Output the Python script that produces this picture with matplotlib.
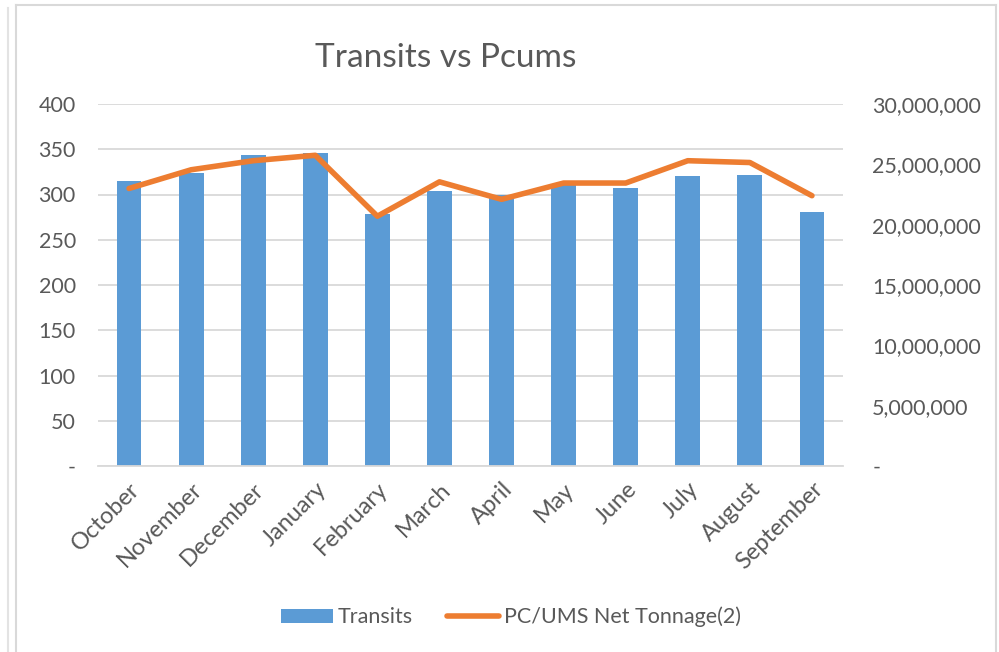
import matplotlib
matplotlib.use("Agg")
import matplotlib.pyplot as plt
from matplotlib.lines import Line2D
from matplotlib.patches import Patch
from matplotlib.ticker import FuncFormatter, MultipleLocator

months = ["October", "November", "December", "January", "February", "March",
          "April", "May", "June", "July", "August", "September"]
transits = [315, 324, 344, 346, 279, 304, 299, 310, 307, 320, 322, 281]
tonnage = [23.0e6, 24.55e6, 25.3e6, 25.75e6, 20.7e6, 23.55e6,
           22.1e6, 23.45e6, 23.45e6, 25.3e6, 25.15e6, 22.4e6]

W, H = 999, 652
fig = plt.figure(figsize=(W / 100, H / 100), dpi=100)
plt.rcParams['font.family'] = ['Lato', 'DejaVu Sans']
FS = 15.5

def fx(x): return x / W
def fy(y): return 1 - y / H
fig.add_artist(Line2D([fx(7.5), fx(7.5)], [fy(8), fy(652)], color="#E3E3E3", lw=1.5))
fig.add_artist(Line2D([fx(16), fx(16)], [fy(5), fy(652)], color="#D9D9D9", lw=1.5))
fig.add_artist(Line2D([fx(16), fx(996)], [fy(5), fy(5)], color="#D9D9D9", lw=1.5))
fig.add_artist(Line2D([fx(996), fx(996)], [fy(5), fy(652)], color="#D9D9D9", lw=1.5))

ax = fig.add_axes([fx(98), fy(466), (843 - 98) / W, (466 - 104) / H])
x = list(range(len(months)))
ax.bar(x, transits, width=0.4, color="#5B9BD5", zorder=2)
ax.set_xlim(-0.5, len(months) - 0.5)
ax.set_ylim(0, 400)
ax.yaxis.set_major_locator(MultipleLocator(50))
ax.yaxis.set_major_formatter(FuncFormatter(lambda v, p: "-" if v == 0 else f"{int(v)}"))
ax.grid(axis="y", color="#D9D9D9", lw=1.3, zorder=0)
for s in ["top", "right", "left"]:
    ax.spines[s].set_visible(False)
ax.spines["bottom"].set_color("#D9D9D9")
ax.spines["bottom"].set_linewidth(1.3)
ax.tick_params(axis="both", length=0, labelsize=FS, labelcolor="#595959")
ax.tick_params(axis="y", pad=16)
ax.set_xticks(x)
ax.set_xticklabels(months, rotation=45, ha="right", rotation_mode="anchor")
ax.tick_params(axis="x", pad=9, labelsize=17)

ax2 = ax.twinx()
ax2.plot(x, tonnage, color="#ED7D31", lw=4, solid_capstyle="round", solid_joinstyle="round", zorder=3)
ax2.set_ylim(0, 30e6)
ax2.yaxis.set_major_locator(MultipleLocator(5e6))
ax2.yaxis.set_major_formatter(FuncFormatter(lambda v, p: "-" if v == 0 else f"{int(v):,}"))
for s in ["top", "right", "left", "bottom"]:
    ax2.spines[s].set_visible(False)
ax2.tick_params(axis="y", length=0, labelsize=FS, labelcolor="#595959", pad=21)

fig.text(fx(446), fy(58), "Transits vs Pcums", ha="center", va="center",
         fontsize=24, color="#595959")

handles = [Patch(facecolor="#5B9BD5", edgecolor="none"),
           Line2D([0], [0], color="#ED7D31", lw=4, solid_capstyle="round")]
fig.legend(handles, ["Transits", "PC/UMS Net Tonnage(2)"], loc="center",
           bbox_to_anchor=(fx(511), fy(617)), ncol=2, frameon=False,
           fontsize=FS, labelcolor="#595959", handlelength=2.4, handleheight=0.65,
           handletextpad=0.23, columnspacing=1.6)

fig.savefig("out.png", dpi=100, facecolor="white")
